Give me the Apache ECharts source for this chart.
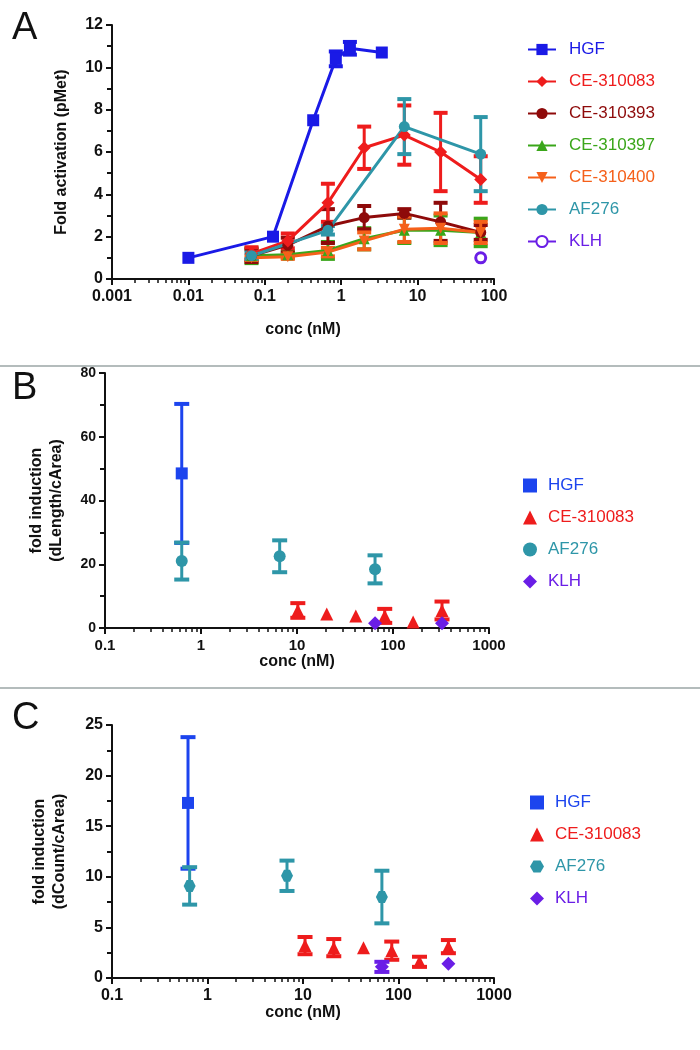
<!DOCTYPE html>
<html>
<head>
<meta charset="utf-8">
<script src="https://cdn.jsdelivr.net/npm/echarts@6/dist/echarts.min.js"></script>
<style>
html, body { margin: 0; padding: 0; background: #fff; }
#chart { width: 700px; height: 1050px; }
</style>
</head>
<body>
<div id="chart"></div>
<script>
// Panel A - fold activation (pMet)
const hgfConcA = [0.01, 0.128, 0.43, 0.85, 1.3, 3.4];
const hgfA = [1.0, 2.0, 7.5, 10.4, 10.9, 10.7];
const hgfErrA = [0, 0, 0, 0.35, 0.3, 0];

const concA = [0.067, 0.2, 0.67, 2, 6.7, 20, 67];
const ce083A = [1.2, 1.8, 3.6, 6.2, 6.8, 6.0, 4.7];
const ce083ErrA = [0.3, 0.35, 0.9, 1.0, 1.4, 1.85, 1.1];
const ce393A = [1.1, 1.6, 2.5, 2.9, 3.1, 2.7, 2.2];
const ce393ErrA = [0.3, 0.35, 0.8, 0.55, 0.2, 0.9, 0.35];
const ce397A = [1.1, 1.15, 1.35, 1.9, 2.3, 2.3, 2.2];
const ce397ErrA = [0.35, 0.15, 0.4, 0.5, 0.6, 0.7, 0.65];
const ce400A = [1.0, 1.05, 1.27, 1.8, 2.35, 2.4, 2.2];
const ce400ErrA = [0.1, 0.1, 0.2, 0.4, 0.6, 0.7, 0.5];
const afConcA = [0.067, 0.67, 6.7, 67];
const af276A = [1.1, 2.3, 7.2, 5.9];
const af276ErrA = [0.15, 0.2, 1.3, 1.75];
const klhConcA = [67];
const klhA = [1.0];

// Panel B - fold induction (dLength/cArea)
const hgfConcB = [0.63];
const hgfB = [48.5];
const hgfErrB = [21.8];
const ce083ConcB = [10.2, 20.4, 41, 82, 162, 324];
const ce083B = [5.5, 4.4, 3.8, 3.8, 1.9, 5.5];
const ce083ErrB = [2.3, 0, 0, 2.2, 0, 2.8];
const afConcB = [0.63, 6.6, 65];
const af276B = [21, 22.5, 18.4];
const af276ErrB = [5.8, 5, 4.4];
const klhConcB = [65, 324];
const klhB = [1.5, 1.5];

// Panel C - fold induction (dCount/cArea)
const hgfConcC = [0.625];
const hgfC = [17.3];
const hgfErrC = [6.5];
const ce083ConcC = [10.5, 21, 43, 85, 166, 333];
const ce083C = [3.2, 3.0, 3.0, 2.7, 1.6, 3.1];
const ce083ErrC = [0.85, 0.85, 0, 0.9, 0.5, 0.65];
const afConcC = [0.65, 6.8, 67];
const af276C = [9.1, 10.1, 8.0];
const af276ErrC = [1.85, 1.5, 2.6];
const klhConcC = [67, 333];
const klhC = [1.1, 1.4];
const klhErrC = [0.5, 0];

const COL = {
    hgf: '#1a1ae6', hgfBC: '#1c44ee', ce083: '#ee1c1c', ce393: '#8e0a0a',
    ce397: '#3aa61a', ce400: '#f5601a', af276: '#2e96a8', klh: '#6a1ee6'
};
const FONT = "'Liberation Sans', Arial, Helvetica, sans-serif";
const TRI_DOWN = 'path://M0,0L10,0L5,9Z';
const HEX = 'path://M2.5,0L7.5,0L10,4.33L7.5,8.66L2.5,8.66L0,4.33Z';

function pairs(xs, ys) {
    return xs.map((x, i) => [x, ys[i]]);
}

function bars(xs, ys, errs) {
    return xs.map((x, i) => [x, ys[i] - errs[i], ys[i] + errs[i]]).filter((d, i) => errs[i] > 0);
}

function errSeries(idx, data, color, capW, lw) {
    return {
        type: 'custom', xAxisIndex: idx, yAxisIndex: idx, data: data,
        encode: { x: 0, y: [1, 2] }, silent: true, z: 2,
        renderItem: function (params, api) {
            const top = api.coord([api.value(0), api.value(2)]);
            const bot = api.coord([api.value(0), api.value(1)]);
            const st = { stroke: color, lineWidth: lw };
            const cap = { stroke: color, lineWidth: lw + 1 };
            const h = capW / 2;
            return {
                type: 'group', children: [
                    { type: 'line', shape: { x1: top[0], y1: top[1], x2: bot[0], y2: bot[1] }, style: st },
                    { type: 'line', shape: { x1: top[0] - h, y1: top[1], x2: top[0] + h, y2: top[1] }, style: cap },
                    { type: 'line', shape: { x1: bot[0] - h, y1: bot[1], x2: bot[0] + h, y2: bot[1] }, style: cap }
                ]
            };
        }
    };
}

function lineSeries(name, xs, ys, color, symbol, size) {
    return {
        name: name, type: 'line', xAxisIndex: 0, yAxisIndex: 0,
        data: pairs(xs, ys), symbol: symbol, symbolSize: size, z: 3,
        lineStyle: { color: color, width: 3 },
        itemStyle: { color: color, borderColor: color, borderWidth: 0 }
    };
}

function dotSeries(name, idx, xs, ys, color, symbol, size) {
    return {
        name: name, type: 'scatter', xAxisIndex: idx, yAxisIndex: idx,
        data: pairs(xs, ys), symbol: symbol, symbolSize: size, z: 3,
        itemStyle: { color: color, opacity: 1 }
    };
}

function logX(idx, min, max, gap, fs) {
    return {
        type: 'log', logBase: 10, gridIndex: idx, min: min, max: max,
        name: 'conc (nM)', nameLocation: 'middle', nameGap: gap,
        nameTextStyle: { color: '#111', fontSize: 16, fontWeight: 'bold', fontFamily: FONT },
        axisLine: { show: true, onZero: false, lineStyle: { color: '#111', width: 2 } },
        axisTick: { show: true, length: 6, lineStyle: { color: '#111', width: 2 } },
        minorTick: { show: true, splitNumber: 9, length: 4, lineStyle: { color: '#111', width: 1.5 } },
        axisLabel: { color: '#111', fontSize: fs, fontWeight: 'bold', fontFamily: FONT, margin: 10,
            formatter: v => String(+v.toPrecision(3)) },
        splitLine: { show: false }
    };
}

function linY(idx, max, interval, name, gap, fs) {
    return {
        type: 'value', gridIndex: idx, min: 0, max: max, interval: interval,
        name: name, nameLocation: 'middle', nameGap: gap,
        nameTextStyle: { color: '#111', fontSize: 16, fontWeight: 'bold', fontFamily: FONT, lineHeight: 20 },
        axisLine: { show: true, lineStyle: { color: '#111', width: 2 } },
        axisTick: { show: true, length: 6, lineStyle: { color: '#111', width: 2 } },
        minorTick: { show: true, splitNumber: 2, length: 5, lineStyle: { color: '#111', width: 2 } },
        axisLabel: { color: '#111', fontSize: fs, fontWeight: 'bold', fontFamily: FONT, margin: 9 },
        splitLine: { show: false }
    };
}

function legendItems(prefix, list) {
    return list.map(([n, c]) => ({ name: prefix + '|' + n, textStyle: { color: c } }));
}

const chart = echarts.init(document.getElementById('chart'), null, { renderer: 'canvas' });

const series = [
    // panel A
    errSeries(0, bars(concA, ce397A, ce397ErrA), COL.ce397, 14, 3),
    lineSeries('A|CE-310397', concA, ce397A, COL.ce397, 'triangle', 11),
    errSeries(0, bars(concA, ce393A, ce393ErrA), COL.ce393, 14, 3),
    lineSeries('A|CE-310393', concA, ce393A, COL.ce393, 'circle', 11),
    errSeries(0, bars(concA, ce083A, ce083ErrA), COL.ce083, 14, 3),
    lineSeries('A|CE-310083', concA, ce083A, COL.ce083, 'diamond', 13),
    errSeries(0, bars(concA, ce400A, ce400ErrA), COL.ce400, 14, 3),
    lineSeries('A|CE-310400', concA, ce400A, COL.ce400, TRI_DOWN, 11),
    errSeries(0, bars(afConcA, af276A, af276ErrA), COL.af276, 14, 3),
    lineSeries('A|AF276', afConcA, af276A, COL.af276, 'circle', 11),
    errSeries(0, bars(hgfConcA, hgfA, hgfErrA), COL.hgf, 14, 3),
    lineSeries('A|HGF', hgfConcA, hgfA, COL.hgf, 'rect', 12),
    {
        name: 'A|KLH', type: 'line', xAxisIndex: 0, yAxisIndex: 0, data: pairs(klhConcA, klhA),
        symbol: 'circle', symbolSize: 10, z: 3,
        lineStyle: { color: COL.klh, width: 3 },
        itemStyle: { color: '#fff', borderColor: COL.klh, borderWidth: 3 }
    },
    // panel B
    errSeries(1, bars(hgfConcB, hgfB, hgfErrB), COL.hgfBC, 15, 3),
    dotSeries('B|HGF', 1, hgfConcB, hgfB, COL.hgfBC, 'rect', 12),
    errSeries(1, bars(ce083ConcB, ce083B, ce083ErrB), COL.ce083, 15, 3),
    dotSeries('B|CE-310083', 1, ce083ConcB, ce083B, COL.ce083, 'triangle', 13),
    errSeries(1, bars(afConcB, af276B, af276ErrB), COL.af276, 15, 3),
    dotSeries('B|AF276', 1, afConcB, af276B, COL.af276, 'circle', 12),
    dotSeries('B|KLH', 1, klhConcB, klhB, COL.klh, 'diamond', 14),
    // panel C
    errSeries(2, bars(hgfConcC, hgfC, hgfErrC), COL.hgfBC, 15, 3),
    dotSeries('C|HGF', 2, hgfConcC, hgfC, COL.hgfBC, 'rect', 12),
    errSeries(2, bars(ce083ConcC, ce083C, ce083ErrC), COL.ce083, 15, 3),
    dotSeries('C|CE-310083', 2, ce083ConcC, ce083C, COL.ce083, 'triangle', 13),
    errSeries(2, bars(afConcC, af276C, af276ErrC), COL.af276, 15, 3),
    dotSeries('C|AF276', 2, afConcC, af276C, COL.af276, HEX, 12),
    errSeries(2, bars(klhConcC, klhC, klhErrC), COL.klh, 15, 3),
    dotSeries('C|KLH', 2, klhConcC, klhC, COL.klh, 'diamond', 14)
];

const legendBase = {
    orient: 'vertical', itemWidth: 28, itemHeight: 14, itemGap: 15,
    formatter: n => n.split('|')[1], selectedMode: false,
    textStyle: { fontSize: 17, fontFamily: FONT, padding: [0, 0, 0, 8] }
};
const dotLegend = { itemWidth: 14, itemHeight: 14, textStyle: { fontSize: 17, fontFamily: FONT, padding: [0, 0, 0, 6] } };

const option = {
    backgroundColor: '#fff',
    animation: false,
    grid: [
        { left: 112, top: 25, width: 382, height: 254 },
        { left: 105, top: 373, width: 384, height: 255 },
        { left: 112, top: 725, width: 382, height: 253 }
    ],
    xAxis: [logX(0, 0.001, 100, 43, 16), logX(1, 0.1, 1000, 26, 15), logX(2, 0.1, 1000, 26, 16)],
    yAxis: [
        linY(0, 12, 2, 'Fold activation (pMet)', 40, 16),
        linY(1, 80, 20, 'fold induction\n(dLength/cArea)', 38, 14),
        linY(2, 25, 5, 'fold induction\n(dCount/cArea)', 42, 16)
    ],
    legend: [
        Object.assign({}, legendBase, { left: 522, top: 36, data: legendItems('A', [
            ['HGF', COL.hgf], ['CE-310083', COL.ce083], ['CE-310393', COL.ce393], ['CE-310397', COL.ce397],
            ['CE-310400', COL.ce400], ['AF276', COL.af276], ['KLH', COL.klh]]) }),
        Object.assign({}, legendBase, dotLegend, { left: 518, top: 472, data: legendItems('B', [
            ['HGF', COL.hgfBC], ['CE-310083', COL.ce083], ['AF276', COL.af276], ['KLH', COL.klh]]) }),
        Object.assign({}, legendBase, dotLegend, { left: 525, top: 789, data: legendItems('C', [
            ['HGF', COL.hgfBC], ['CE-310083', COL.ce083], ['AF276', COL.af276], ['KLH', COL.klh]]) })
    ],
    graphic: [
        { type: 'line', shape: { x1: 0, y1: 366, x2: 700, y2: 366 }, style: { stroke: '#b4bcbc', lineWidth: 2 } },
        { type: 'line', shape: { x1: 0, y1: 688, x2: 700, y2: 688 }, style: { stroke: '#b4bcbc', lineWidth: 2 } },
        { type: 'text', left: 12, top: 10, style: { text: 'A', fontSize: 38, fontFamily: FONT, fill: '#111' } },
        { type: 'text', left: 12, top: 370, style: { text: 'B', fontSize: 38, fontFamily: FONT, fill: '#111' } },
        { type: 'text', left: 12, top: 700, style: { text: 'C', fontSize: 38, fontFamily: FONT, fill: '#111' } }
    ],
    series: series
};

chart.setOption(option);
</script>
</body>
</html>
